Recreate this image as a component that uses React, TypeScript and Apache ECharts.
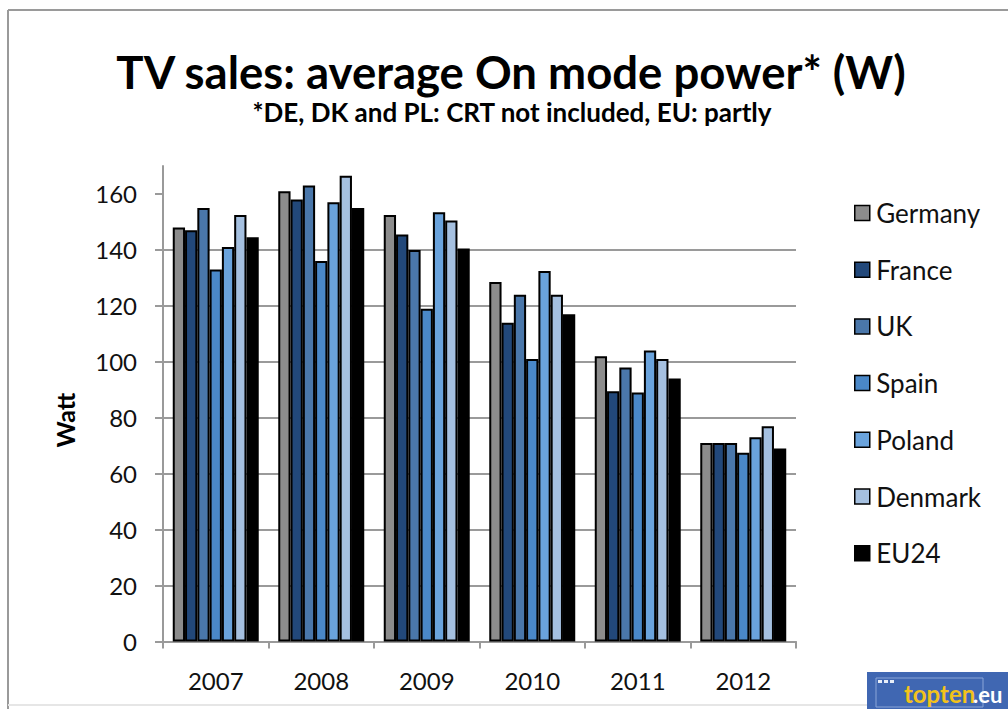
import React, { useEffect, useRef } from "react";
import * as echarts from "echarts";

const years = ["2007", "2008", "2009", "2010", "2011", "2012"];
const seriesNames = ["Germany", "France", "UK", "Spain", "Poland", "Denmark", "EU24"];
const germany = [148, 161, 152.5, 128.5, 102, 71];
const france = [147, 158, 145.5, 114, 89.5, 71];
const uk = [155, 163, 140, 124, 98, 71];
const spain = [133, 136, 119, 101, 89, 67.5];
const poland = [141, 157, 153.5, 132.5, 104, 73];
const denmark = [152.5, 166.5, 150.5, 124, 101, 77];
const eu24 = [144.5, 155, 140.5, 117, 94, 69];
const seriesValues = [germany, france, uk, spain, poland, denmark, eu24];
const seriesColors = ["#8c8c8c", "#22487a", "#4a77aa", "#4a88c8", "#6aa3dc", "#a5c0e0", "#000000"];
const yTicks = [0, 20, 40, 60, 80, 100, 120, 140, 160];

const FONT = "Lato, 'Open Sans', sans-serif";

export default function App() {
  const ref = useRef<HTMLDivElement>(null);
  useEffect(() => {
    if (!ref.current) return;
    const chart = echarts.init(ref.current, null, { renderer: "svg" });
    chart.setOption({
      animation: false,
      backgroundColor: "#ffffff",
      textStyle: { fontFamily: FONT },
      grid: { left: 163, right: 212, top: 166, bottom: 67.5, containLabel: false },
      legend: {
        orient: "vertical",
        left: 849,
        top: 195,
        itemWidth: 18,
        itemHeight: 15,
        itemGap: 30.7,
        icon: "path://M0,0H10V10H0Z",
        data: seriesNames,
        itemStyle: { borderColor: "#000", borderWidth: 1.5 },
        textStyle: { fontFamily: FONT, fontSize: 26, color: "#111", lineHeight: 26 },
      },
      xAxis: {
        type: "category",
        data: years,
        axisLine: { lineStyle: { color: "#9a9a9a", width: 2 } },
        axisTick: { show: true, length: 7, lineStyle: { color: "#9a9a9a", width: 2 } },
        axisLabel: { fontFamily: FONT, fontSize: 24, color: "#111", margin: 27, lineHeight: 24 },
      },
      yAxis: {
        type: "value",
        min: 0,
        max: 170,
        interval: 20,
        axisLine: { show: true, lineStyle: { color: "#9a9a9a", width: 2 } },
        axisTick: { show: true, length: 8, customValues: yTicks, lineStyle: { color: "#9a9a9a", width: 2 } },
        axisLabel: { fontFamily: FONT, fontSize: 24, color: "#111", margin: 26, customValues: yTicks },
        splitLine: { show: true, showMaxLine: false, lineStyle: { color: "#9a9a9a", width: 2 } },
      },
      series: seriesNames.map((name, i) => ({
        name,
        type: "bar",
        data: seriesValues[i],
        barGap: "0%",
        barCategoryGap: "18.5%",
        itemStyle: { color: seriesColors[i], borderColor: "#000", borderWidth: 2 },
      })),
      graphic: [
        { type: "line", shape: { x1: 8, y1: 10, x2: 1008, y2: 10 }, style: { stroke: "#9a9a9a", lineWidth: 2 } },
        { type: "line", shape: { x1: 8, y1: 10, x2: 8, y2: 709 }, style: { stroke: "#9a9a9a", lineWidth: 2 } },
        { type: "line", shape: { x1: 8, y1: 705, x2: 870, y2: 705 }, style: { stroke: "#e6e6e6", lineWidth: 2 } },
        {
          type: "text",
          x: 511,
          y: 71,
          style: { text: "TV sales: average On mode power* (W)", font: `bold 45.5px ${FONT}`, fill: "#000", textAlign: "center", textVerticalAlign: "middle" },
        },
        {
          type: "text",
          x: 512,
          y: 112,
          style: { text: "*DE, DK and PL: CRT not included, EU: partly", font: `bold 26px ${FONT}`, fill: "#000", textAlign: "center", textVerticalAlign: "middle" },
        },
        {
          type: "text",
          x: 65,
          y: 420,
          rotation: Math.PI / 2,
          style: { text: "Watt", font: `bold 25px ${FONT}`, fill: "#000", textAlign: "center", textVerticalAlign: "middle" },
        },
        { type: "rect", shape: { x: 867, y: 672, width: 141, height: 37 }, style: { fill: "#4067b2" } },
        { type: "rect", shape: { x: 876, y: 678, width: 107, height: 29 }, style: { fill: "none", stroke: "#8aa6d8", lineWidth: 1 } },
        { type: "rect", shape: { x: 878, y: 680, width: 4, height: 3 }, style: { fill: "#e8eef8" } },
        { type: "rect", shape: { x: 884, y: 680, width: 4, height: 3 }, style: { fill: "#e8eef8" } },
        { type: "rect", shape: { x: 890, y: 680, width: 4, height: 3 }, style: { fill: "#e8eef8" } },
        {
          type: "text",
          x: 904,
          y: 693,
          style: { text: "topten", font: `bold 24px ${FONT}`, fill: "#f2c21b", textVerticalAlign: "middle" },
        },
        {
          type: "text",
          x: 973,
          y: 694,
          style: { text: ".eu", font: `bold 22px ${FONT}`, fill: "#ffffff", textVerticalAlign: "middle" },
        },
      ],
    });
    return () => chart.dispose();
  }, []);
  return <div ref={ref} style={{ position: "fixed", left: 0, top: 0, width: 1008, height: 709 }} />;
}
